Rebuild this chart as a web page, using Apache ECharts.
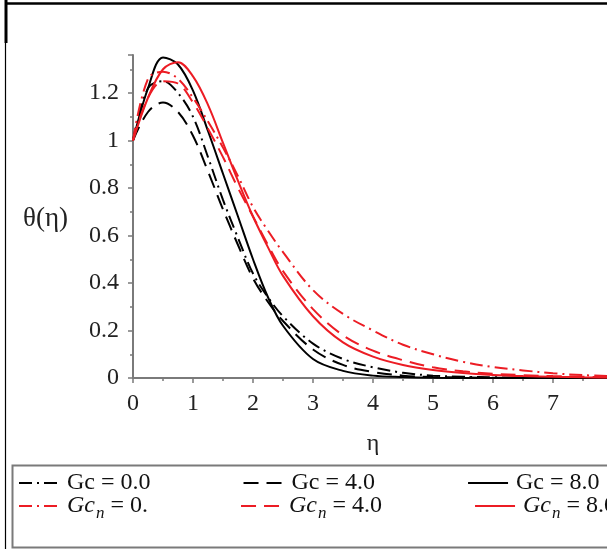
<!DOCTYPE html>
<html>
<head>
<meta charset="utf-8">
<script src="https://cdn.jsdelivr.net/npm/echarts@6/dist/echarts.min.js"></script>
<style>
  html, body { margin: 0; padding: 0; background: #fff; }
  #chart { width: 607px; height: 549px; }
</style>
</head>
<body>
<div id="chart"></div>
<script>
// Similarity variable η
const eta = [0, 0.25, 0.5, 0.75, 1, 1.25, 1.5, 1.75, 2, 2.25, 2.5, 3, 3.5, 4, 4.5, 5, 5.5, 6, 6.5, 7, 7.5, 8];

// θ(η) profiles, Gc (black)
const gc0 = [1, 1.22, 1.25, 1.20, 1.10, 0.93, 0.75, 0.59, 0.44, 0.34, 0.26, 0.145, 0.08, 0.045, 0.022, 0.010, 0.005, 0.003, 0.002, 0.001, 0.0005, 0];
const gc4 = [1, 1.12, 1.16, 1.12, 1.02, 0.87, 0.71, 0.56, 0.42, 0.32, 0.24, 0.12, 0.055, 0.025, 0.010, 0.004, 0.002, 0.001, 0, 0, 0, 0];
const gc8 = [1, 1.22, 1.35, 1.32, 1.21, 1.04, 0.86, 0.68, 0.50, 0.34, 0.22, 0.08, 0.03, 0.01, 0.004, 0.001, 0, 0, 0, 0, 0, 0];

// θ(η) profiles, Gc_n (red)
const gcn0 = [1, 1.26, 1.29, 1.26, 1.18, 1.08, 0.97, 0.85, 0.72, 0.62, 0.53, 0.37, 0.27, 0.20, 0.14, 0.10, 0.068, 0.046, 0.032, 0.020, 0.012, 0.008];
const gcn4 = [1, 1.18, 1.25, 1.24, 1.16, 1.05, 0.93, 0.80, 0.68, 0.56, 0.45, 0.29, 0.18, 0.115, 0.075, 0.045, 0.028, 0.018, 0.012, 0.008, 0.005, 0.003];
const gcn8 = [1, 1.18, 1.30, 1.33, 1.27, 1.15, 0.99, 0.83, 0.68, 0.55, 0.43, 0.26, 0.15, 0.09, 0.055, 0.034, 0.021, 0.013, 0.008, 0.005, 0.003, 0.002];

const blackNames = ['Gc = 0.0', 'Gc = 4.0', 'Gc = 8.0'];
const redNames = ['Gcn = 0.', 'Gcn = 4.0', 'Gcn = 8.0'];
const redLabels = { 'Gcn = 0.': ' = 0.', 'Gcn = 4.0': ' = 4.0', 'Gcn = 8.0': ' = 8.0' };

const SERIF = '"Liberation Serif", "DejaVu Serif", serif';
const RED = '#ec1c24';
const DASH = [15, 8];
const DASHDOT = [13, 5, 2, 5];
const FS = 24;

function pairs(ys) { return eta.map((x, i) => [x, ys[i]]); }

function line(name, ys, color, type) {
  return {
    name, type: 'line', data: pairs(ys), smooth: 0.35,
    showSymbol: false, symbol: 'none', animation: false,
    lineStyle: { color, width: 2, type }, itemStyle: { color }
  };
}

const chart = echarts.init(document.getElementById('chart'), null, { renderer: 'canvas' });

const axisGray = '#7a7a7a';

const legendBase = {
  left: 18, width: 900, orient: 'horizontal', padding: 0,
  itemWidth: 40, itemHeight: 14, itemGap: 92,
  selectedMode: false,
  itemStyle: { opacity: 0, borderWidth: 0 }
};

chart.setOption({
  animation: false,
  backgroundColor: '#fff',
  grid: { left: 133, top: 55, width: 480, height: 323, containLabel: false, outerBoundsMode: 'none' },
  xAxis: {
    type: 'value', min: 0, max: 8, interval: 1,
    name: 'η', nameLocation: 'middle', nameGap: 54,
    nameTextStyle: { fontFamily: SERIF, fontSize: FS, color: '#222' },
    axisLine: { show: true, onZero: false, lineStyle: { color: axisGray, width: 2 } },
    axisTick: { show: true, length: 5, lineStyle: { color: axisGray, width: 1.5 } },
    minorTick: { show: true, splitNumber: 2, length: 3, lineStyle: { color: axisGray, width: 1.5 } },
    splitLine: { show: false },
    axisLabel: { fontFamily: SERIF, fontSize: FS, color: '#222', margin: 14, hideOverlap: false }
  },
  yAxis: {
    type: 'value', min: 0, max: 1.36, interval: 0.2,
    axisLine: { show: true, onZero: false, lineStyle: { color: axisGray, width: 2 } },
    axisTick: { show: true, length: 5, lineStyle: { color: axisGray, width: 1.5 } },
    minorTick: { show: true, splitNumber: 2, length: 3, lineStyle: { color: axisGray, width: 1.5 } },
    splitLine: { show: false },
    axisLabel: {
      fontFamily: SERIF, fontSize: FS, color: '#222', margin: 14, showMaxLabel: false,
      formatter: v => (Math.abs(v * 5 - Math.round(v * 5)) < 1e-6 ? String(+v.toFixed(1)) : '')
    }
  },
  legend: [
    Object.assign({}, legendBase, {
      data: blackNames, top: 471,
      textStyle: { fontFamily: SERIF, fontSize: FS, color: '#111', padding: [0, 0, 0, 3] }
    }),
    Object.assign({}, legendBase, {
      data: redNames, top: 494,
      formatter: n => '{it|Gc}{sub|n}{rm|' + redLabels[n] + '}',
      textStyle: {
        fontFamily: SERIF, fontSize: FS, color: '#111', padding: [0, 0, 0, 3],
        rich: {
          it: { fontFamily: SERIF, fontSize: FS, fontStyle: 'italic', color: '#111' },
          sub: { fontFamily: SERIF, fontSize: 17, fontStyle: 'italic', color: '#111', padding: [16, 0, 0, 1] },
          rm: { fontFamily: SERIF, fontSize: FS, color: '#111' }
        }
      }
    })
  ],
  graphic: [
    // outer frame
    { type: 'line', shape: { x1: 5, y1: 3.5, x2: 607, y2: 3.5 }, style: { stroke: '#000', lineWidth: 2.5 }, silent: true },
    { type: 'line', shape: { x1: 6, y1: 0, x2: 6, y2: 43 }, style: { stroke: '#000', lineWidth: 3 }, silent: true },
    { type: 'line', shape: { x1: 5.5, y1: 43, x2: 5.5, y2: 549 }, style: { stroke: '#000', lineWidth: 1.2 }, silent: true },
    // legend box
    { type: 'rect', shape: { x: 12.5, y: 465.5, width: 620, height: 82 }, style: { fill: 'none', stroke: '#7a7a7a', lineWidth: 2 }, silent: true, z: -1 },
    // vertical axis title
    {
      type: 'text', left: 23, top: 205, silent: true,
      style: { text: 'θ(η)', font: '27px ' + SERIF, fill: '#222' }
    }
  ],
  series: [
    line(blackNames[0], gc0, '#000', DASHDOT),
    line(blackNames[1], gc4, '#000', DASH),
    line(blackNames[2], gc8, '#000', 'solid'),
    line(redNames[0], gcn0, RED, DASHDOT),
    line(redNames[1], gcn4, RED, DASH),
    line(redNames[2], gcn8, RED, 'solid')
  ]
});
</script>
</body>
</html>
